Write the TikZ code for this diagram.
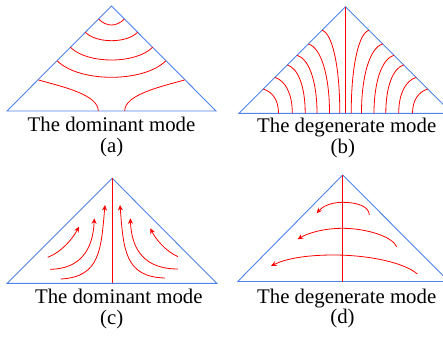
\documentclass[tikz,border=0pt]{standalone}
\usepackage{fontspec}
\setmainfont{Liberation Serif}
\usetikzlibrary{arrows.meta}
\definecolor{triblue}{RGB}{80,130,235}
\definecolor{fieldred}{RGB}{255,0,0}
\begin{document}
\begin{tikzpicture}[x=1pt,y=-1pt,
  tri/.style={triblue, line width=0.9pt, line join=miter},
  fl/.style={fieldred, line width=0.8pt},
  fla/.style={fl, -{Stealth[length=5.5pt,width=5pt]}},
  captext/.style={font=\fontsize{20.8}{24}\selectfont, anchor=base, inner sep=0pt}]
\useasboundingbox (0,0) rectangle (443,337);
\clip (0,0) rectangle (443,337);

% ---------- (a) ----------
\draw[tri] (7,111) -- (111.5,6) -- (216,111) -- cycle;
\foreach \yy/\ss in {19/6, 32.3/8.4, 47.3/12.7, 60.7/16.6} {
  \pgfmathsetmacro\myh{(\yy-6)*0.995}
  \pgfmathsetmacro\myc{4*\ss/3}
  \draw[fl] (111.5-\myh,\yy) .. controls (111.5-\myh+\myc,\yy+\myc) and (111.5+\myh-\myc,\yy+\myc) .. (111.5+\myh,\yy);
}
\draw[fl] (38.5,80) .. controls (64,87) and (98.3,95) .. (98.3,111);
\draw[fl] (184.5,80) .. controls (159,87) and (124.7,95) .. (124.7,111);
\node[captext] (ta) at (111.5,131.7) {The dominant mode};
\node[captext] (la) at (111.7,152.5) {(a)};

% ---------- (b) ----------
\draw[tri] (239,113.3) -- (345.5,6.7) -- (452,113.3) -- cycle;
\draw[fl] (345.5,6.7) -- (345.5,113.3);
\foreach \ee/\bb in {23.5/5.7, 37.2/16, 48.5/28.5, 58.2/40.3, 70.7/53.2, 82.3/67} {
  \pgfmathsetmacro\mdx{\ee-\bb}
  \pgfmathsetmacro\mdy{106.6-\ee}
  \draw[fl] (345.5-\ee,6.7+\ee) .. controls (345.5-\ee+0.6*\mdx,6.7+\ee+0.18*\mdx) and (345.5-\bb,113.3-0.55*\mdy) .. (345.5-\bb,113.3);
  \draw[fl] (345.5+\ee,6.7+\ee) .. controls (345.5+\ee-0.6*\mdx,6.7+\ee+0.18*\mdx) and (345.5+\bb,113.3-0.55*\mdy) .. (345.5+\bb,113.3);
}
\node[captext] (tb) at (346.7,132.7) {The degenerate mode};
\node[captext] (lb) at (342.8,153.5) {(b)};

% ---------- (c) ----------
\draw[tri] (7.3,283.3) -- (112.3,178.3) -- (216.7,283.3) -- cycle;
\draw[fl] (112.3,178.3) -- (112.3,283.3);
\draw[fla] (60.7,279) .. controls (100,277) and (101,250) .. (105,205);
\draw[fla] (50,269.3) .. controls (80,269) and (93,250) .. (94.3,218.3);
\draw[fla] (47.7,257.3) .. controls (62,252) and (73,238) .. (79,226.7);
\draw[fla] (165,278) .. controls (125,277) and (123.5,250) .. (120,205);
\draw[fla] (178,269) .. controls (144.6,269) and (131.6,250) .. (130.3,218.3);
\draw[fla] (178,256.7) .. controls (165,251) and (155,238) .. (150.3,228.3);
\node[captext] (tc) at (118.8,303.3) {The dominant mode};
\node[captext] (lc) at (111.7,324.5) {(c)};

% ---------- (d) ----------
\draw[tri] (237.7,281.5) -- (342.7,175) -- (449,281.5) -- cycle;
\draw[fl] (342.7,175) -- (342.7,281.5);
\draw[fla] (369.3,215) .. controls (369.3,206) and (356,202.3) .. (342.7,202.3)
  .. controls (330,202.3) and (322,207) .. (316.7,213.3);
\draw[fla] (396.7,246.7) .. controls (392,236) and (365,228.3) .. (342.7,228.3)
  .. controls (322,228.3) and (306,234) .. (297.7,239.3);
\draw[fla] (417.3,274) .. controls (405,263) and (370,255) .. (333.3,255)
  .. controls (305,255) and (285,259) .. (271,266);
\node[captext] (td) at (346.7,303.3) {The degenerate mode};
\node[captext] (ld) at (342.5,323) {(d)};
\end{tikzpicture}
\end{document}
